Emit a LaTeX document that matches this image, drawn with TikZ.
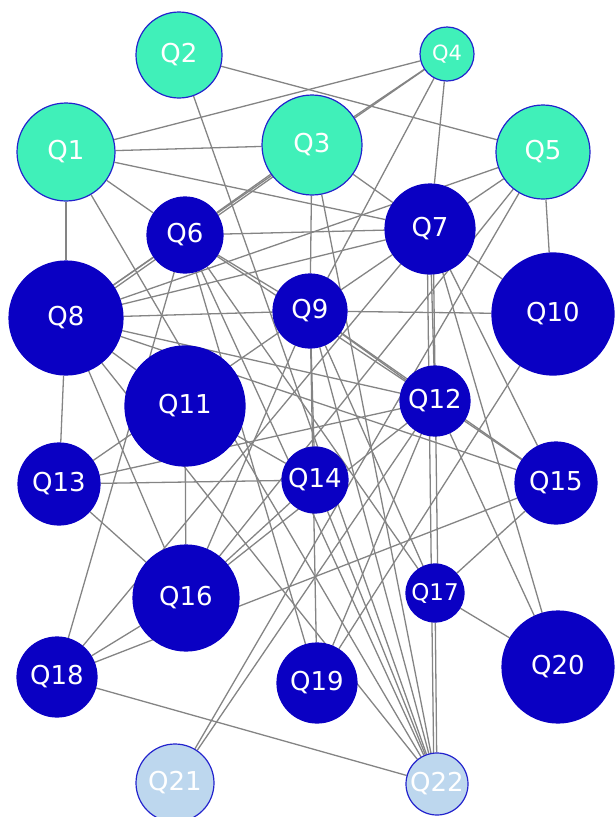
\documentclass[tikz,border=0pt]{standalone}
\usepackage{fontspec}
\setmainfont{DejaVu Sans}
\pgfdeclarelayer{background}
\pgfsetlayers{background,main}
\definecolor{teal1}{RGB}{64,240,185}
\definecolor{dblue}{RGB}{10,0,195}
\definecolor{lblue}{RGB}{189,215,238}
\definecolor{rim}{RGB}{35,35,205}
\definecolor{edgegray}{RGB}{132,132,132}
\tikzset{
  qn/.style={circle, inner sep=0pt, text=white, font=\fontsize{26}{26}\selectfont, line width=1.2pt},
  qa/.style={qn, fill=teal1, draw=rim},
  qb/.style={qn, fill=dblue, draw=dblue},
  qc/.style={qn, fill=lblue, draw=rim},
  link/.style={draw=edgegray, line width=1.3pt}
}
\begin{document}
\begin{tikzpicture}[x=1pt,y=-1pt]
\useasboundingbox (0,0) rectangle (614,817);
\node[qa, minimum size=98pt] (Q1) at (66,152) {Q1};
\node[qa, minimum size=86pt] (Q2) at (179,55) {Q2};
\node[qa, minimum size=100pt] (Q3) at (312,145) {Q3};
\node[qa, minimum size=54pt, font=\fontsize{21}{21}\selectfont] (Q4) at (447,54) {Q4};
\node[qa, minimum size=94pt] (Q5) at (543,152) {Q5};
\node[qb, minimum size=76pt] (Q6) at (185,235) {Q6};
\node[qb, minimum size=90pt] (Q7) at (430,229) {Q7};
\node[qb, minimum size=114pt] (Q8) at (66,318) {Q8};
\node[qb, minimum size=74pt] (Q9) at (310,311) {Q9};
\node[qb, minimum size=122pt] (Q10) at (553,314) {Q10};
\node[qb, minimum size=120pt] (Q11) at (185,406) {Q11};
\node[qb, minimum size=70pt] (Q12) at (435,401) {Q12};
\node[qb, minimum size=82pt] (Q13) at (59,484) {Q13};
\node[qb, minimum size=66pt] (Q14) at (315,480) {Q14};
\node[qb, minimum size=82pt] (Q15) at (556,483) {Q15};
\node[qb, minimum size=106pt] (Q16) at (186,598) {Q16};
\node[qb, minimum size=58pt, font=\fontsize{23}{23}\selectfont] (Q17) at (435,593) {Q17};
\node[qb, minimum size=80pt] (Q18) at (57,677) {Q18};
\node[qb, minimum size=80pt] (Q19) at (317,683) {Q19};
\node[qb, minimum size=112pt] (Q20) at (558,667) {Q20};
\node[qc, minimum size=78pt] (Q21) at (175,783) {Q21};
\node[qc, minimum size=62pt] (Q22) at (437,784) {Q22};
\begin{pgfonlayer}{background}
\foreach \a/\b in {Q1/Q3,Q1/Q4,Q1/Q6,Q1/Q7,Q1/Q8,Q1/Q22,
  Q2/Q5,Q2/Q22,
  Q3/Q4,Q3/Q6,Q3/Q7,Q3/Q9,Q3/Q22,
  Q4/Q7,Q4/Q9,Q4/Q8,
  Q5/Q7,Q5/Q8,Q5/Q10,Q5/Q21,Q5/Q16,
  Q6/Q7,Q6/Q8,Q6/Q9,Q6/Q12,Q6/Q17,Q6/Q18,Q6/Q19,Q6/Q22,
  Q7/Q8,Q7/Q10,Q7/Q12,Q7/Q15,Q7/Q20,Q7/Q9,Q7/Q18,
  Q8/Q11,Q8/Q12,Q8/Q13,Q8/Q15,Q8/Q16,Q8/Q22,Q8/Q9,
  Q9/Q10,Q9/Q12,Q9/Q13,Q9/Q14,Q9/Q16,Q9/Q17,Q9/Q15,Q9/Q19,Q9/Q22,
  Q10/Q19,
  Q11/Q14,Q11/Q16,
  Q12/Q13,Q12/Q15,Q12/Q16,Q12/Q20,Q12/Q21,Q12/Q19,
  Q13/Q14,Q13/Q16,
  Q14/Q22,
  Q15/Q17,Q15/Q18,
  Q16/Q14,Q16/Q18,
  Q17/Q20,Q17/Q22,
  Q18/Q22}
  \draw[link] (\a) -- (\b);
\draw[link] ([xshift=3pt]Q7.center) -- ([xshift=3pt]Q17.center);
\draw[link] ([xshift=-3pt]Q7.center) -- ([xshift=-3pt]Q22.center);
\draw[link] ([shift={(2pt,-3pt)}]Q3.center) -- ([shift={(2pt,-3pt)}]Q8.center);
\end{pgfonlayer}
\end{tikzpicture}
\end{document}
